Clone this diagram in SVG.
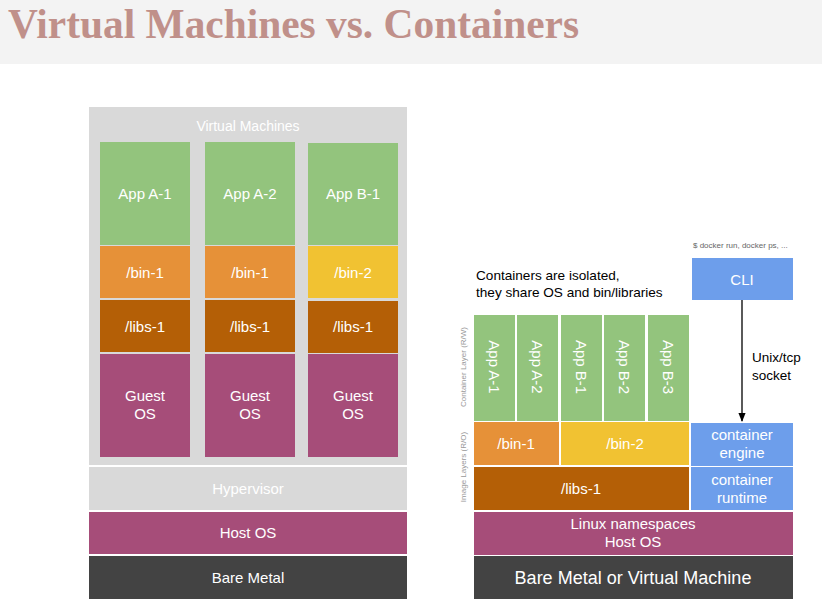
<svg xmlns="http://www.w3.org/2000/svg" width="822" height="615" viewBox="0 0 822 615">
  <defs>
    <style>
      text { font-family: "Liberation Sans", Arial, sans-serif; }
      .w { fill: #ffffff; font-size: 15px; text-anchor: middle; }
      .lbl { fill: #999999; font-size: 8px; text-anchor: middle; }
      .green { fill: #93c47d; }
      .orange { fill: #e69138; }
      .yellow { fill: #f1c232; }
      .brown { fill: #b45f06; }
      .purple { fill: #a64d79; }
      .dark { fill: #434343; }
      .blue { fill: #6d9eeb; }
      .grey { fill: #d9d9d9; }
    </style>
    <marker id="arrow" viewBox="0 0 10 10" refX="9" refY="5" markerWidth="7" markerHeight="7" orient="auto">
      <path d="M0,1 L10,5 L0,9 z" fill="#000000"/>
    </marker>
  </defs>

  <rect width="822" height="615" fill="#ffffff"/>

  <!-- title bar -->
  <g id="title">
    <rect x="0" y="0" width="822" height="64" fill="#f3f3f3"/>
    <text x="8" y="38" style="font-family:'Liberation Serif','Times New Roman',serif;font-weight:bold;font-size:41.4px;fill:#c0908a">Virtual Machines vs. Containers</text>
  </g>

  <!-- virtual machine stack -->
  <g id="vm-panel">
    <rect class="grey" x="89" y="107" width="318" height="358"/>
    <text class="w" x="248" y="131" style="font-size:14px">Virtual Machines</text>
  </g>

  <g id="vm1">
    <rect class="green" x="100" y="142" width="90" height="103"/>
    <text class="w" x="145" y="199">App A-1</text>
    <rect class="orange" x="100" y="246" width="90" height="52"/>
    <text class="w" x="145" y="278">/bin-1</text>
    <rect class="brown" x="100" y="300" width="90" height="52"/>
    <text class="w" x="145" y="332">/libs-1</text>
    <rect class="purple" x="100" y="354" width="90" height="103"/>
    <text class="w" x="145" y="401">Guest</text>
    <text class="w" x="145" y="419">OS</text>
  </g>

  <g id="vm2">
    <rect class="green" x="205" y="142" width="90" height="103"/>
    <text class="w" x="250" y="199">App A-2</text>
    <rect class="orange" x="205" y="246" width="90" height="52"/>
    <text class="w" x="250" y="278">/bin-1</text>
    <rect class="brown" x="205" y="300" width="90" height="52"/>
    <text class="w" x="250" y="332">/libs-1</text>
    <rect class="purple" x="205" y="354" width="90" height="103"/>
    <text class="w" x="250" y="401">Guest</text>
    <text class="w" x="250" y="419">OS</text>
  </g>

  <g id="vm3">
    <rect class="green" x="308" y="143" width="90" height="102"/>
    <text class="w" x="353" y="199">App B-1</text>
    <rect class="yellow" x="308" y="246" width="90" height="52"/>
    <text class="w" x="353" y="278">/bin-2</text>
    <rect class="brown" x="308" y="301" width="90" height="52"/>
    <text class="w" x="353" y="332">/libs-1</text>
    <rect class="purple" x="308" y="354" width="90" height="103"/>
    <text class="w" x="353" y="401">Guest</text>
    <text class="w" x="353" y="419">OS</text>
  </g>

  <g id="hypervisor">
    <rect class="grey" x="89" y="467" width="318" height="43"/>
    <text class="w" x="248" y="494">Hypervisor</text>
  </g>

  <g id="vm-host-os">
    <rect class="purple" x="89" y="512" width="318" height="42"/>
    <text class="w" x="248" y="538">Host OS</text>
  </g>

  <g id="vm-bare-metal">
    <rect class="dark" x="89" y="556" width="318" height="43"/>
    <text class="w" x="248" y="583">Bare Metal</text>
  </g>

  <!-- container stack -->
  <g id="caption">
    <text x="476" y="280" style="font-size:13.6px;fill:#000000">Containers are isolated,</text>
    <text x="476" y="297" style="font-size:13.6px;fill:#000000">they share OS and bin/libraries</text>
  </g>

  <g id="layer-labels">
    <text class="lbl" transform="translate(466,367) rotate(-90)">Container  Layer (R/W)</text>
    <text class="lbl" transform="translate(466,467) rotate(-90)">Image Layers (R/O)</text>
  </g>

  <g id="app-a1">
    <rect class="green" x="474" y="315" width="41" height="106"/>
    <text class="w" transform="translate(489,367) rotate(90)">App A-1</text>
  </g>
  <g id="app-a2">
    <rect class="green" x="517" y="315" width="41" height="106"/>
    <text class="w" transform="translate(532,367) rotate(90)">App A-2</text>
  </g>
  <g id="app-b1">
    <rect class="green" x="561" y="315" width="41" height="106"/>
    <text class="w" transform="translate(576,367) rotate(90)">App B-1</text>
  </g>
  <g id="app-b2">
    <rect class="green" x="604" y="315" width="41" height="106"/>
    <text class="w" transform="translate(619,367) rotate(90)">App B-2</text>
  </g>
  <g id="app-b3">
    <rect class="green" x="648" y="315" width="41" height="106"/>
    <text class="w" transform="translate(663,367) rotate(90)">App B-3</text>
  </g>

  <g id="bin1">
    <rect class="orange" x="474" y="422" width="85" height="43"/>
    <text class="w" x="516" y="449">/bin-1</text>
  </g>
  <g id="bin2">
    <rect class="yellow" x="561" y="422" width="128" height="43"/>
    <text class="w" x="625" y="449">/bin-2</text>
  </g>
  <g id="libs1">
    <rect class="brown" x="474" y="467" width="215" height="43"/>
    <text class="w" x="581" y="494">/libs-1</text>
  </g>

  <g id="cli">
    <text x="693" y="248" style="font-size:8px;fill:#666666">$ docker run, docker ps, ...</text>
    <rect class="blue" x="692" y="258" width="101" height="42"/>
    <text class="w" x="742" y="285">CLI</text>
  </g>

  <g id="container-engine">
    <rect class="blue" x="691" y="423" width="102" height="43"/>
    <text class="w" x="742" y="440">container</text>
    <text class="w" x="742" y="458">engine</text>
  </g>
  <g id="container-runtime">
    <rect class="blue" x="691" y="467" width="102" height="43"/>
    <text class="w" x="742" y="485">container</text>
    <text class="w" x="742" y="503">runtime</text>
  </g>

  <g id="ct-host-os">
    <rect class="purple" x="474" y="512" width="319" height="43"/>
    <text class="w" x="633" y="529">Linux namespaces</text>
    <text class="w" x="633" y="547">Host OS</text>
  </g>

  <g id="ct-bare-metal">
    <rect class="dark" x="474" y="556" width="319" height="43"/>
    <text class="w" x="633" y="584" style="font-size:18px">Bare Metal or Virtual Machine</text>
  </g>

  <!-- connectors -->
  <g id="connectors">
    <line x1="742" y1="300" x2="742" y2="421" stroke="#000000" stroke-width="1.3" marker-end="url(#arrow)"/>
    <text x="752" y="362" style="font-size:13.5px;fill:#000000">Unix/tcp</text>
    <text x="752" y="380" style="font-size:13.5px;fill:#000000">socket</text>
  </g>
</svg>
